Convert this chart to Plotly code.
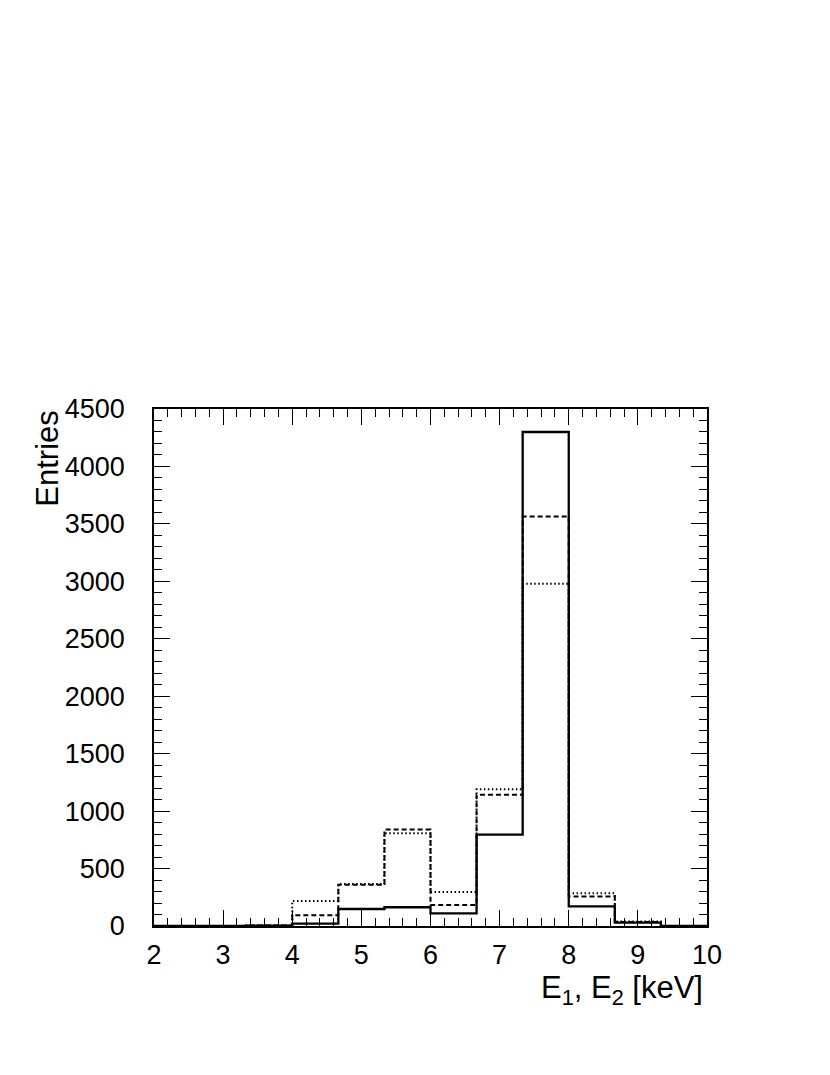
import plotly.graph_objects as go

# bin edges: 12 bins from 2 to 10 keV
edges = [2 + i * 8 / 12 for i in range(13)]

solid = [0, 0, 2, 21, 148, 163, 110, 795, 4300, 171, 30, 0]
dashed = [0, 0, 5, 93, 360, 839, 183, 1143, 3565, 256, 35, 0]
dotted = [0, 0, 5, 218, 365, 807, 296, 1190, 2980, 285, 40, 0]

y_ticks = [0, 500, 1000, 1500, 2000, 2500, 3000, 3500, 4000, 4500]

font = "Liberation Sans, Arial, Helvetica, sans-serif"


def steps(vals):
    # close histogram outline down to zero on both ends
    xs = [edges[0]] + edges + [edges[-1]]
    ys = [0] + vals + [vals[-1], 0]
    return xs, ys


fig = go.Figure()

for vals, dash, w in [(dotted, "1.5px,2.5px", 2), (dashed, "5px,3px", 2), (solid, "solid", 2.3)]:
    xs, ys = steps(vals)
    fig.add_trace(go.Scatter(x=xs, y=ys, mode="lines", line_shape="hv",
                             line=dict(color="black", width=w, dash=dash),
                             showlegend=False, hoverinfo="skip"))

# page body adds an 8px offset, so figure is 8px smaller
fig.update_layout(
    width=822, height=1067,
    margin=dict(l=146, r=123, t=401, b=149),
    plot_bgcolor="white", paper_bgcolor="white",
    font=dict(family=font, size=27, color="black"),
    xaxis=dict(range=[2, 10], dtick=1, tick0=2, ticks="inside", ticklen=16, tickwidth=1,
               tickcolor="black", showline=True, linecolor="black", linewidth=1.5,
               mirror="ticks", showgrid=False, zeroline=False, ticklabelstandoff=4,
               minor=dict(dtick=0.2, ticks="inside", ticklen=8, tickcolor="black", showgrid=False)),
    yaxis=dict(range=[0, 4500], tickvals=y_ticks, ticks="inside", ticklen=16, tickwidth=1,
               tickcolor="black", showline=True, linecolor="black", linewidth=1.5,
               mirror="ticks", showgrid=False, zeroline=False, ticklabelstandoff=22,
               minor=dict(dtick=100, ticks="inside", ticklen=8, tickcolor="black", showgrid=False)),
)

fig.add_annotation(text="Entries", textangle=-90, xref="paper", yref="paper",
                   x=-0.194, y=1.0, xanchor="center", yanchor="top", showarrow=False,
                   font=dict(size=31))
fig.add_annotation(text="E<sub>1</sub>, E<sub>2</sub> [keV]", xref="paper", yref="paper",
                   x=0.997, y=-0.082, xanchor="right", yanchor="top", showarrow=False,
                   font=dict(size=31))

fig.write_html("out.html")
